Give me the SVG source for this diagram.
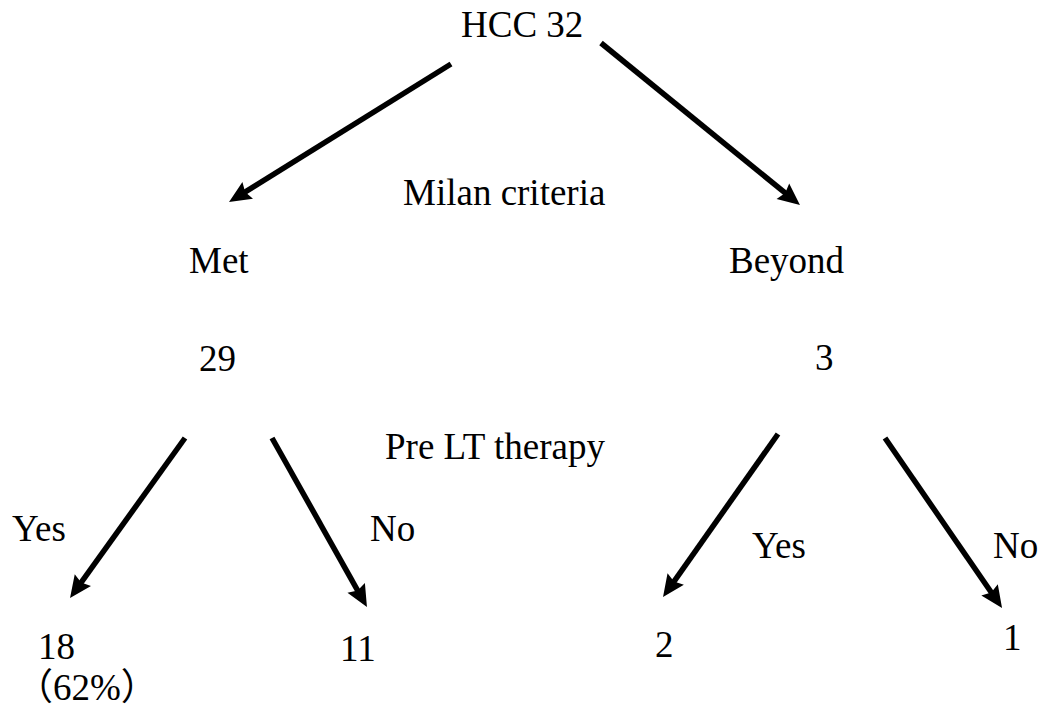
<svg xmlns="http://www.w3.org/2000/svg" width="1046" height="711" viewBox="0 0 1046 711">
<style>
text{font-family:"Liberation Serif","Noto Sans CJK JP",serif;font-size:37px;fill:#000}
.c{stroke:#000;stroke-width:5.5;fill:none;marker-end:url(#ah)}
</style>
<defs>
<marker id="ah" markerUnits="userSpaceOnUse" markerWidth="40" markerHeight="40" viewBox="-20 -20 40 40" refX="0" refY="0" orient="auto">
<path d="M-8,-10 L14,0 L-8,10 L-5,0 Z" fill="#000"/>
</marker>
</defs>
<rect width="1046" height="711" fill="#fff"/>
<g id="connectors">
<line class="c" x1="451" y1="64" x2="240.9" y2="194.6"/>
<line class="c" x1="601" y1="43" x2="789.1" y2="196.2"/>
<line class="c" x1="185" y1="438" x2="78.2" y2="586.6"/>
<line class="c" x1="272" y1="438" x2="360.1" y2="594.8"/>
<line class="c" x1="778" y1="434" x2="671.1" y2="585.6"/>
<line class="c" x1="885" y1="438" x2="994.1" y2="596.5"/>
</g>
<g id="root"><text x="461" y="37">HCC 32</text></g>
<g id="label-milan"><text x="403" y="205">Milan criteria</text></g>
<g id="met"><text x="189" y="273">Met</text><text x="199" y="371">29</text></g>
<g id="beyond"><text x="729" y="273">Beyond</text><text x="815" y="370">3</text></g>
<g id="label-prelt"><text x="385" y="459">Pre LT therapy</text></g>
<g id="label-yes1"><text x="12" y="541">Yes</text></g>
<g id="label-no1"><text x="370" y="541">No</text></g>
<g id="label-yes2"><text x="752" y="558">Yes</text></g>
<g id="label-no2"><text x="993" y="558">No</text></g>
<g id="met-yes"><text x="38" y="659">18</text><text x="16" y="700">（62%）</text></g>
<g id="met-no"><text x="340" y="661">11</text></g>
<g id="beyond-yes"><text x="655" y="657">2</text></g>
<g id="beyond-no"><text x="1003" y="650">1</text></g>
</svg>
